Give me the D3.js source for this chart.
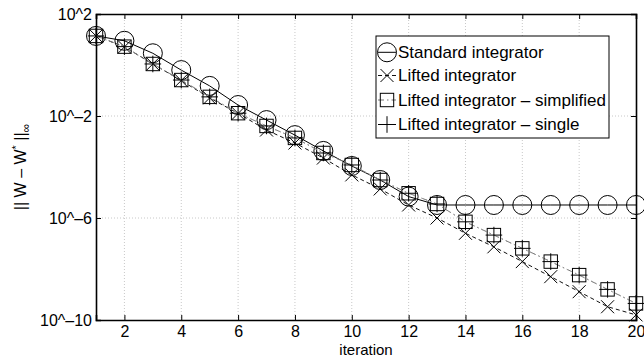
<!DOCTYPE html>
<html>
<head>
<meta charset="utf-8">
<script src="https://cdn.jsdelivr.net/npm/d3@7"></script>
<style>
  body { margin: 0; background: #fff; }
  svg { display: block; font-family: "Liberation Sans", Arial, Helvetica, sans-serif; }
</style>
</head>
<body>
<div id="chart"></div>
<script>
// iterations 1..20, values as log10 of the error
const iterations = d3.range(1, 21)
const standardLog = [1.14, 0.95, 0.46, -0.20, -0.82, -1.57, -2.16, -2.75, -3.37, -3.96,
  -4.51, -5.16, -5.49, -5.49, -5.49, -5.49, -5.49, -5.49, -5.49, -5.49]
const liftedLog = [1.14, 0.71, 0.04, -0.61, -1.29, -1.90, -2.55, -3.06, -3.65, -4.31,
  -4.86, -5.49, -6.00, -6.60, -7.13, -7.71, -8.30, -8.89, -9.48, -9.80]
const simplifiedLog = [1.14, 0.72, 0.04, -0.59, -1.25, -1.89, -2.39, -2.86, -3.45, -3.92,
  -4.51, -5.03, -5.45, -6.15, -6.67, -7.19, -7.71, -8.24, -8.80, -9.35]
const singleLog = [1.14, 0.72, 0.04, -0.59, -1.25, -1.89, -2.39, -2.86, -3.45, -3.92,
  -4.51, -5.03, -5.45, -6.15, -6.67, -7.19, -7.71, -8.24, -8.80, -9.35]

const xTicks = [2, 4, 6, 8, 10, 12, 14, 16, 18, 20]
const yTicks = [1e2, 1e-2, 1e-6, 1e-10]
const legendLabels = ['Standard integrator', 'Lifted integrator',
  'Lifted integrator \u2013 simplified', 'Lifted integrator \u2013 single']

const width = 644, height = 358
const plotLeft = 96, plotRight = 636, plotTop = 14, plotBottom = 320

const svg = d3.select('#chart').append('svg').attr('width', width).attr('height', height)

const x = d3.scaleLinear().domain([1, 20]).range([plotLeft, plotRight])
const y = d3.scaleLog().domain([1e-10, 1e2]).range([plotBottom, plotTop])

function expLabel(v) {
  const e = Math.round(Math.log10(v))
  return '10^' + (e < 0 ? '\u2013' + (-e) : e)
}

// dotted grid
const grid = svg.append('g').attr('stroke', '#c8c8c8').attr('stroke-width', 1).attr('stroke-dasharray', '1,2')
grid.selectAll('.gx').data(xTicks.filter(t => t < 20)).enter().append('line')
  .attr('x1', d => x(d)).attr('x2', d => x(d)).attr('y1', plotTop).attr('y2', plotBottom)
grid.selectAll('.gy').data(yTicks.filter(t => t < 1e2 && t > 1e-10)).enter().append('line')
  .attr('x1', plotLeft).attr('x2', plotRight).attr('y1', d => y(d)).attr('y2', d => y(d))

// series
const series = [
  { name: 'standard', vals: standardLog, marker: 'circle', dash: null, lineColor: '#000' },
  { name: 'lifted', vals: liftedLog, marker: 'x', dash: '4,3', lineColor: '#111' },
  { name: 'simplified', vals: simplifiedLog, marker: 'square', dash: '6,3,1.5,3', lineColor: '#777' },
  { name: 'single', vals: singleLog, marker: 'plus', dash: '1.5,3', lineColor: '#999' }
]

const line = d3.line().x(d => x(d.it)).y(d => y(Math.pow(10, d.v)))

function drawMarker(g, kind, cx, cy) {
  if (kind === 'circle') {
    g.append('circle').attr('cx', cx).attr('cy', cy).attr('r', 9.5)
      .attr('fill', 'none').attr('stroke', '#000').attr('stroke-width', 1)
  } else if (kind === 'x') {
    const s = 6.5
    g.append('path').attr('d', `M${cx - s},${cy - s}L${cx + s},${cy + s}M${cx - s},${cy + s}L${cx + s},${cy - s}`)
      .attr('stroke', '#000').attr('stroke-width', 1).attr('fill', 'none')
  } else if (kind === 'square') {
    const s = 6.7
    g.append('rect').attr('x', cx - s).attr('y', cy - s).attr('width', 2 * s).attr('height', 2 * s)
      .attr('fill', 'none').attr('stroke', '#000').attr('stroke-width', 1)
  } else if (kind === 'plus') {
    const s = 8.3
    g.append('path').attr('d', `M${cx - s},${cy}L${cx + s},${cy}M${cx},${cy - s}L${cx},${cy + s}`)
      .attr('stroke', '#000').attr('stroke-width', 1).attr('fill', 'none')
  }
}

for (const s of series) {
  const pts = iterations.map((it, i) => ({ it: it, v: s.vals[i] }))
  const g = svg.append('g').attr('class', s.name)
  g.append('path').datum(pts).attr('d', line)
    .attr('fill', 'none').attr('stroke', s.lineColor).attr('stroke-width', 1)
    .attr('stroke-dasharray', s.dash)
  pts.forEach(p => drawMarker(g, s.marker, x(p.it), y(Math.pow(10, p.v))))
}

// axes (ticks point inward, box on)
const axisFont = 16
svg.append('g').attr('transform', `translate(0,${plotBottom})`)
  .call(d3.axisBottom(x).tickValues(xTicks).tickSize(-5).tickPadding(6).tickFormat(d3.format('d')))
svg.append('g').attr('transform', `translate(0,${plotTop})`)
  .call(d3.axisTop(x).tickValues(xTicks).tickSize(-5).tickFormat(''))
svg.append('g').attr('transform', `translate(${plotLeft},0)`)
  .call(d3.axisLeft(y).tickValues(yTicks).tickSize(-5).tickPadding(4).tickFormat(expLabel))
svg.append('g').attr('transform', `translate(${plotRight},0)`)
  .call(d3.axisRight(y).tickValues(yTicks).tickSize(-5).tickFormat(''))

svg.selectAll('.domain').attr('stroke', '#000').attr('stroke-width', 1.6)
svg.selectAll('.tick line').attr('stroke', '#000').attr('stroke-width', 1)
svg.selectAll('.tick text').attr('fill', '#000').style('font-size', axisFont + 'px')
  .style('font-family', '"Liberation Sans", Arial, sans-serif')

// axis labels
svg.append('text').attr('x', (plotLeft + plotRight) / 2).attr('y', 355)
  .attr('text-anchor', 'middle').style('font-size', '15px').text('iteration')

const ylab = svg.append('text')
  .attr('transform', `translate(26,${(plotTop + plotBottom) / 2}) rotate(-90)`)
  .attr('text-anchor', 'middle').style('font-size', '16px')
ylab.append('tspan').text('|| W \u2013 W')
ylab.append('tspan').attr('dy', -6).style('font-size', '11px').text('*')
ylab.append('tspan').attr('dy', 6).text(' ||')
ylab.append('tspan').attr('dy', 4).style('font-size', '12px').text('\u221e')

// legend
const lg = svg.append('g')
lg.append('rect').attr('x', 376).attr('y', 36).attr('width', 233).attr('height', 102)
  .attr('fill', '#fff').attr('stroke', '#000').attr('stroke-width', 1)
const rowY = [52.3, 75.5, 100, 124.5]
series.forEach((s, i) => {
  const cy = rowY[i]
  lg.append('line').attr('x1', 378).attr('x2', 396).attr('y1', cy).attr('y2', cy)
    .attr('stroke', s.marker === 'plus' ? '#000' : s.lineColor).attr('stroke-width', 1)
    .attr('stroke-dasharray', s.marker === 'plus' ? null : s.dash)
  drawMarker(lg, s.marker, 387, cy)
  lg.append('text').attr('x', 398).attr('y', cy + 5.8).style('font-size', '17px')
    .text(legendLabels[i])
})
</script>
</body>
</html>
